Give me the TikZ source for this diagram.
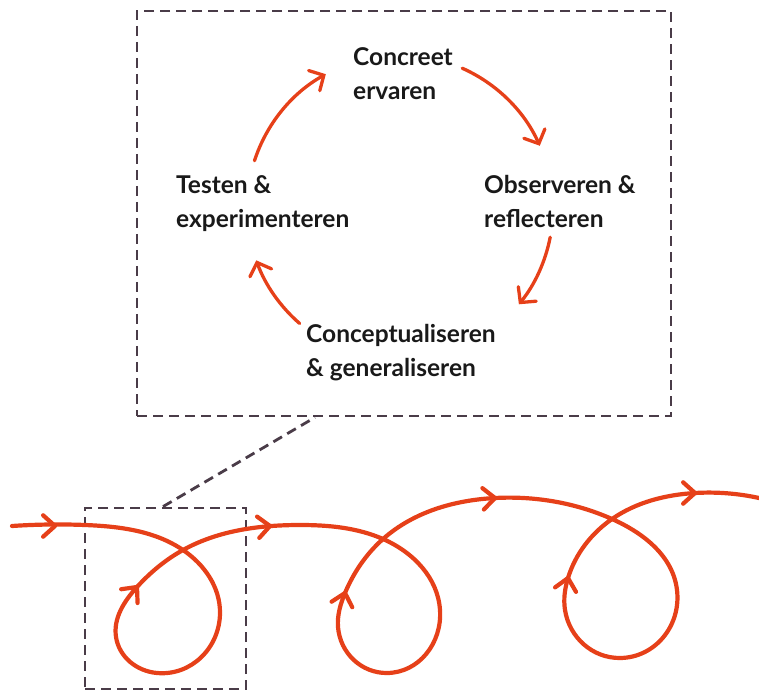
\documentclass[tikz,border=0pt]{standalone}
\usepackage{fontspec}
\setmainfont{Lato}
\usetikzlibrary{arrows.meta,calc,hobby}
\definecolor{org}{RGB}{230,64,25}
\definecolor{dgr}{RGB}{74,60,72}
\begin{document}
\begin{tikzpicture}[x=1pt,y=1pt,
  lbl/.style={anchor=base west,align=left,inner sep=0pt,text=black!90,
    font=\fontsize{24.5}{34.5}\selectfont\bfseries},
  dbox/.style={draw=dgr,line width=2.8pt,dash pattern=on 10pt off 6pt,inner sep=0pt},
  dline/.style={draw=dgr,line width=2.8pt,dash pattern=on 10pt off 6pt},
  cyc/.style={draw=org,line width=3.3pt,line cap=round,
    -{Straight Barb[length=11pt,width=23pt,line cap=round]}},
  spir/.style={draw=org,line width=4.2pt,line cap=round,line join=round},
  chev/.pic={\draw[spir] (-138:16pt) -- (0,0) -- (138:16pt);}
]
\useasboundingbox (0,0) rectangle (759,691);
% boxes
\node[dbox,minimum width=534pt,minimum height=405pt] (big) at (404,477.5) {};
\node[dbox,minimum width=161pt,minimum height=181pt] (small) at (165.5,92.5) {};
\draw[dline] ([xshift=-2.5pt]small.north) -- ([xshift=-89pt]big.south);
% labels (anchor = baseline of last line)
\node[lbl] (ce) at (353,591) {Concreet\\ervaren};
\node[lbl] (or) at (484,463) {Observeren \&\\reflecteren};
\node[lbl] (cg) at (306,314) {Conceptualiseren\\\& generaliseren};
\node[lbl] (te) at (176,463) {Testen \&\\experimenteren};
% cycle arrows
\coordinate (ctr) at (400,483);
\coordinate (a1) at ($(ctr)+(66:153pt)$);
\coordinate (a2) at ($(ctr)+(-11:153pt)$);
\coordinate (a3) at ($(ctr)+(229:153pt)$);
\coordinate (a4) at ($(ctr)+(162:153pt)$);
\draw[cyc] (a1) arc[start angle=66,end angle=24,radius=153pt];
\draw[cyc] (a2) arc[start angle=-11,end angle=-39,radius=153pt];
\draw[cyc] (a3) arc[start angle=229,end angle=200,radius=153pt];
\draw[cyc] (a4) arc[start angle=162,end angle=119,radius=153pt];
% spiral
\draw[spir,use Hobby shortcut] (12,165) .. (85,166) .. (183,141) .. (220,78) ..
 (157,18) .. (116,54) .. (137,104) .. (183,141) .. (300,166) .. (383,152) ..
 (440,81) .. (387,18) .. (338,64) .. (345,98) .. (383,152) .. (495,193) ..
 (612,172) .. (677,101) .. (620,33) .. (565,81) .. (568,113) .. (612,172) ..
 (695,198) .. (759,193);
\pic[rotate=0] at (55,165) {chev};
\pic[rotate=50] at (137,104) {chev};
\pic[rotate=6] at (270,165) {chev};
\pic[rotate=75] at (345,98) {chev};
\pic[rotate=4] at (495,193) {chev};
\pic[rotate=78] at (568,113) {chev};
\pic[rotate=0] at (695,198) {chev};
\end{tikzpicture}
\end{document}
